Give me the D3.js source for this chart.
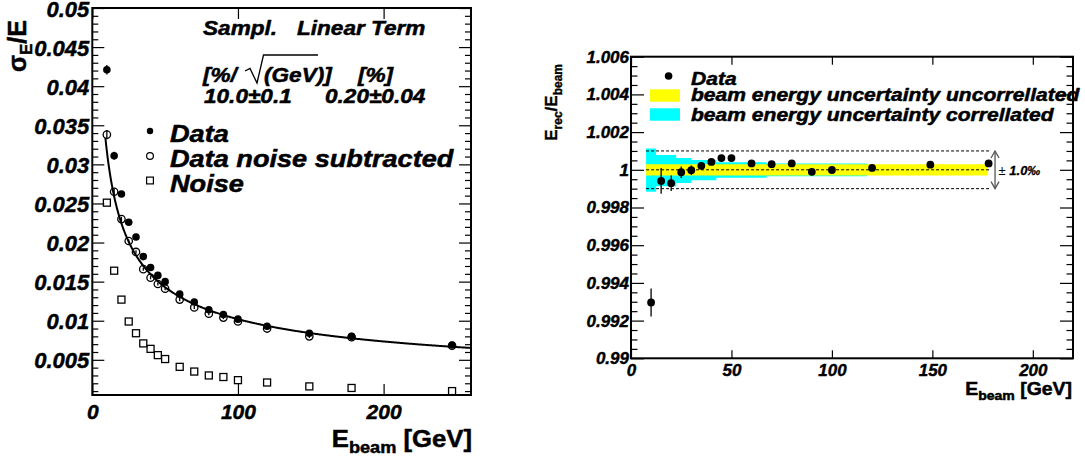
<!DOCTYPE html>
<html><head><meta charset="utf-8">
<script src="https://cdn.jsdelivr.net/npm/d3@7"></script>
<style>body{margin:0;background:#fff} text{white-space:pre}</style>
</head><body><svg id="c" width="1085" height="463"></svg>
<script>
// ---------- Left panel: energy resolution ----------
const energyL   = [10,15,20,25,30,35,40,45,50,60,70,80,90,100,120,149,178,247];
const dataRes   = [0.0421,0.0311,0.0262,0.0226,0.0207,0.0182,0.0168,0.0158,0.0150,0.0134,0.0124,0.0114,0.0108,0.0102,0.0093,0.0084,0.0080,0.0069];
const dataErr   = [0.0006,0.0005,0.0003,0.0002,0.0002,0.0002,0.0002,0.0002,0.0002,0.0002,0.0002,0.0002,0.0002,0.0002,0.0002,0.0002,0.0002,0.0002];
const subRes    = [0.0338,0.0265,0.0230,0.0202,0.0188,0.0166,0.0155,0.0147,0.0141,0.0127,0.0117,0.0109,0.0104,0.0099,0.0090,0.0080,0.0079,0.0068];
const subErr    = [0.0006,0.0004,0.0003,0.0002,0.0002,0.0002,0.0002,0.0002,0.0002,0.0002,0.0002,0.0002,0.0002,0.0002,0.0002,0.0002,0.0002,0.0002];
const noiseRes  = [0.0251,0.0164,0.0127,0.0099,0.0084,0.0071,0.0064,0.0056,0.0051,0.0041,0.0035,0.0030,0.0028,0.0024,0.0021,0.0016,0.0014,0.0010];
const fitSampling = 10.0, fitSamplingErr = 0.1;   // %/sqrt(GeV)
const fitLinear   = 0.20, fitLinearErr   = 0.04;  // %
const fitRange    = [9, 260];
const legendL     = ["Data","Data noise subtracted","Noise"];
const xTicksL      = [0,100,200];
const xTickLabelsL = ["0","100","200"];
const yTicksL      = [0.005,0.01,0.015,0.02,0.025,0.03,0.035,0.04,0.045,0.05];
const yTickLabelsL = ["0.005","0.01","0.015","0.02","0.025","0.03","0.035","0.04","0.045","0.05"];

// ---------- Right panel: linearity ----------
const energyR      = [10,15,20,25,30,35,40,45,50,60,70,80,90,100,120,149,178];
const linearity    = [0.99296,0.99941,0.99929,0.99987,0.99998,1.00021,1.00042,1.00062,1.00062,1.00034,1.00030,1.00034,0.99989,0.99999,1.00010,1.00027,1.00034];
const linearityErr = [0.00074,0.00068,0.00041,0.00030,0.00025,0.00020,0.00015,0.00012,0.00012,0.0001,0.0001,0.0001,0.0001,0.0001,0.0001,0.0001,0.0001];
const corrEdges  = [7.5,12.5,22.5,30,42.5,67.5,117.5];
const corrUp     = [0.00113,0.00078,0.00062,0.00052,0.00040,0.00034];
const corrDn     = [0.00117,0.00087,0.00070,0.00055,0.00042,0.00034];
const uncorrRange = [7.5,177.6];
const uncorrHalf  = 0.0003;
const refLevels   = [1.001,1.0,0.999];
const refRange    = [7.5,178.5];
const arrowE      = 181.2;
const arrowLabel  = "1.0‰";
const legendR     = ["Data","beam energy uncertainty uncorrellated","beam energy uncertainty correllated"];
const xTicksR      = [0,50,100,150,200];
const xTickLabelsR = ["0","50","100","150","200"];
const yTicksR      = [0.99,0.992,0.994,0.996,0.998,1.0,1.002,1.004,1.006];
const yTickLabelsR = ["0.99","0.992","0.994","0.996","0.998","1","1.002","1.004","1.006"];

const FONT = "'Liberation Sans', Arial, Helvetica, sans-serif";
const svg = d3.select("#c");
svg.append("rect").attr("width",1085).attr("height",463).attr("fill","#fff");

function heavy(sel, w) { return sel.attr("stroke","#000").attr("stroke-width", w).attr("stroke-linejoin","round"); }
function txt(parent, x, y, sx, anchor, size, weight, style) {
  const t = parent.append("text")
    .attr("transform", `translate(${x},${y}) scale(${sx},1)`)
    .attr("text-anchor", anchor).attr("font-family", FONT)
    .attr("font-size", size).attr("font-weight", weight).attr("font-style", style)
    .attr("fill", "#000");
  return heavy(t, 0.5);
}
function styleAxis(g, size, labels, dy) {
  g.select(".domain").remove();
  g.selectAll(".tick line").attr("stroke","#000").attr("stroke-width",1.2);
  const tt = g.selectAll(".tick text").attr("font-family",FONT).attr("font-size",size)
   .attr("font-weight","bold").attr("font-style","italic").attr("fill","#000");
  heavy(tt, 0.45);
  if (dy) tt.attr("dy", dy);
  if (!labels) g.selectAll(".tick text").remove();
}

// ================= LEFT =================
const xL = d3.scaleLinear().domain([0,260]).range([92.3,471]);
const yL = d3.scaleLinear().domain([0.0005,0.05]).range([395,8]);
const gL = svg.append("g");
const yMinorL = d3.range(1,50).map(i => i*0.001).filter(v => Math.abs(v/0.005 - Math.round(v/0.005)) > 1e-6);

gL.append("g").attr("transform","translate(0,395)")
  .call(d3.axisBottom(xL).tickValues(xTicksL).tickSize(-11).tickPadding(9).tickFormat((d,i)=>xTickLabelsL[i]))
  .call(g=>styleAxis(g,21,true));
gL.append("g").attr("transform","translate(0,8)")
  .call(d3.axisTop(xL).tickValues(xTicksL).tickSize(-11)).call(g=>styleAxis(g,21,false));
gL.append("g").attr("transform","translate(92.3,0)")
  .call(d3.axisLeft(yL).tickValues(yTicksL).tickSize(-12).tickPadding(3).tickFormat((d,i)=>yTickLabelsL[i]))
  .call(g=>styleAxis(g,22,true,"0.37em"));
gL.append("g").attr("transform","translate(92.3,0)")
  .call(d3.axisLeft(yL).tickValues(yMinorL).tickSize(-6)).call(g=>styleAxis(g,22,false));
gL.append("g").attr("transform","translate(471,0)")
  .call(d3.axisRight(yL).tickValues(yTicksL).tickSize(-12)).call(g=>styleAxis(g,22,false));
gL.append("g").attr("transform","translate(471,0)")
  .call(d3.axisRight(yL).tickValues(yMinorL).tickSize(-6)).call(g=>styleAxis(g,22,false));

// fit curve
const fitE = d3.range(fitRange[0], fitRange[1]+0.01, 0.5);
const fitF = E => Math.sqrt(Math.pow(fitSampling/100/Math.sqrt(E),2) + Math.pow(fitLinear/100,2));
gL.append("path").datum(fitE)
  .attr("d", d3.line().x(E=>xL(E)).y(E=>yL(fitF(E))))
  .attr("fill","none").attr("stroke","#000").attr("stroke-width",2);

// error bars
const errL = gL.append("g").attr("stroke","#000").attr("stroke-width",1.3);
energyL.forEach((E,i)=>{
  errL.append("line").attr("x1",xL(E)).attr("x2",xL(E)).attr("y1",yL(dataRes[i]-dataErr[i])).attr("y2",yL(dataRes[i]+dataErr[i]));
  errL.append("line").attr("x1",xL(E)).attr("x2",xL(E)).attr("y1",yL(subRes[i]-subErr[i])).attr("y2",yL(subRes[i]+subErr[i]));
});
// markers
gL.append("g").selectAll("rect").data(energyL).join("rect")
  .attr("x",(E)=>xL(E)-3.5).attr("y",(E,i)=>yL(noiseRes[i])-3.5).attr("width",7).attr("height",7)
  .attr("fill","none").attr("stroke","#000").attr("stroke-width",1.3);
gL.append("g").selectAll("circle").data(energyL).join("circle")
  .attr("cx",E=>xL(E)).attr("cy",(E,i)=>yL(dataRes[i])).attr("r",3.8).attr("fill","#000");
gL.append("g").selectAll("circle").data(energyL).join("circle")
  .attr("cx",E=>xL(E)).attr("cy",(E,i)=>yL(subRes[i])).attr("r",3.7)
  .attr("fill","none").attr("stroke","#000").attr("stroke-width",1.3);

// frame
gL.append("rect").attr("x",92.3).attr("y",8).attr("width",471-92.3).attr("height",395-8)
  .attr("fill","none").attr("stroke","#000").attr("stroke-width",2);

// annotation
txt(gL,203,35,1.13,"start",20,"bold","italic").text("Sampl.");
txt(gL,297,35,1.13,"start",20,"bold","italic").text("Linear Term");
txt(gL,203,82,1.13,"start",20,"bold","italic").text("[%/");
txt(gL,264,82,1.13,"start",20,"bold","italic").text("(GeV)]");
gL.append("path").attr("d","M245,71 L250,68.5 L257,83 L263.5,55 L318,55")
  .attr("fill","none").attr("stroke","#000").attr("stroke-width",1.3);
txt(gL,358,82,1.13,"start",20,"bold","italic").text("[%]");
txt(gL,204,103.3,1.13,"start",20,"bold","italic").text(`${fitSampling.toFixed(1)}±${fitSamplingErr.toFixed(1)}`);
txt(gL,325,103.3,1.13,"start",20,"bold","italic").text(`${fitLinear.toFixed(2)}±${fitLinearErr.toFixed(2)}`);

// legend
const legY = [131,156,180.5];
gL.append("circle").attr("cx",150).attr("cy",legY[0]).attr("r",3.2).attr("fill","#000");
gL.append("circle").attr("cx",150).attr("cy",legY[1]).attr("r",3.4).attr("fill","none").attr("stroke","#000").attr("stroke-width",1.2);
gL.append("rect").attr("x",146.6).attr("y",legY[2]-3.4).attr("width",6.8).attr("height",6.8).attr("fill","none").attr("stroke","#000").attr("stroke-width",1.2);
legendL.forEach((s,i)=> txt(gL,170,legY[i]+11,1.18,"start",23,"bold","italic").text(s));

// axis titles
{
  const t = txt(gL,472,446.7,1.07,"end",24,"bold","normal");
  t.append("tspan").text("E");
  t.append("tspan").attr("font-size",17).attr("dy",6).text("beam");
  t.append("tspan").attr("dy",-6).text(" [GeV]");
}
{
  const t = heavy(gL.append("text").attr("transform","translate(26,20) rotate(-90)")
    .attr("text-anchor","end").attr("font-family",FONT).attr("font-size",25).attr("font-weight","bold"), 0.5);
  t.append("tspan").text("σ");
  t.append("tspan").attr("font-size",17).attr("dy",6).text("E");
  t.append("tspan").attr("dy",-6).text("/E");
}

// ================= RIGHT =================
const xR = d3.scaleLinear().domain([0,220]).range([631,1073]);
const yR = d3.scaleLinear().domain([0.99,1.006]).range([358.3,56.7]);
const gR = svg.append("g");
const yMinorR = d3.range(0,33).map(i => 0.99 + i*0.0005).filter((v,i)=> i%4 !== 0);

gR.append("g").attr("transform","translate(0,358.3)")
  .call(d3.axisBottom(xR).tickValues(xTicksR).tickSize(-8).tickPadding(5.5).tickFormat((d,i)=>xTickLabelsR[i]))
  .call(g=>styleAxis(g,17,true));
gR.append("g").attr("transform","translate(0,56.7)")
  .call(d3.axisTop(xR).tickValues(xTicksR).tickSize(-8)).call(g=>styleAxis(g,17,false));
gR.append("g").attr("transform","translate(631,0)")
  .call(d3.axisLeft(yR).tickValues(yTicksR).tickSize(-13).tickPadding(2).tickFormat((d,i)=>yTickLabelsR[i]))
  .call(g=>styleAxis(g,17,true));
gR.append("g").attr("transform","translate(631,0)")
  .call(d3.axisLeft(yR).tickValues(yMinorR).tickSize(-6.5)).call(g=>styleAxis(g,17,false));
gR.append("g").attr("transform","translate(1073,0)")
  .call(d3.axisRight(yR).tickValues(yTicksR).tickSize(-13)).call(g=>styleAxis(g,17,false));
gR.append("g").attr("transform","translate(1073,0)")
  .call(d3.axisRight(yR).tickValues(yMinorR).tickSize(-6.5)).call(g=>styleAxis(g,17,false));

// correlated (cyan) histogram band
const corrPts = corrEdges.map((e,i)=>({x:e, up:corrUp[Math.min(i,corrUp.length-1)], dn:corrDn[Math.min(i,corrDn.length-1)]}));
gR.append("path").datum(corrPts)
  .attr("d", d3.area().curve(d3.curveStepAfter).x(d=>xR(d.x)).y0(d=>yR(1-d.dn)).y1(d=>yR(1+d.up)))
  .attr("fill","#00ffff");
// uncorrelated (yellow) band
gR.append("path").datum(uncorrRange)
  .attr("d", d3.area().x(d=>xR(d)).y0(yR(1-uncorrHalf)).y1(yR(1+uncorrHalf)))
  .attr("fill","#ffff00");
// dashed reference lines
refLevels.forEach(v=>{
  gR.append("line").attr("x1",xR(refRange[0])).attr("x2",xR(refRange[1])).attr("y1",yR(v)).attr("y2",yR(v))
    .attr("stroke","#000").attr("stroke-width",1).attr("stroke-dasharray","3,2");
});
// arrow
{
  const ax = xR(arrowE), y1 = yR(refLevels[0]), y2 = yR(refLevels[2]);
  const a = gR.append("g").attr("stroke","#555").attr("stroke-width",1.3).attr("fill","none");
  a.append("line").attr("x1",ax).attr("x2",ax).attr("y1",y1).attr("y2",y2);
  a.append("path").attr("d",`M${ax-4},${y1+7} L${ax},${y1} L${ax+4},${y1+7}`);
  a.append("path").attr("d",`M${ax-4},${y2-7} L${ax},${y2} L${ax+4},${y2-7}`);
  const t = gR.append("text").attr("x",ax+3.5).attr("y",yR(1)+5).attr("font-family",FONT).attr("font-size",13).attr("fill","#000");
  t.append("tspan").text("± ");
  heavy(t.append("tspan").attr("font-weight","bold").attr("font-style","italic"),0.3).text(arrowLabel);
}
// error bars & points
const errR = gR.append("g").attr("stroke","#000").attr("stroke-width",1.3);
energyR.forEach((E,i)=>{
  errR.append("line").attr("x1",xR(E)).attr("x2",xR(E)).attr("y1",yR(linearity[i]-linearityErr[i])).attr("y2",yR(linearity[i]+linearityErr[i]));
});
gR.append("g").selectAll("circle").data(energyR).join("circle")
  .attr("cx",E=>xR(E)).attr("cy",(E,i)=>yR(linearity[i])).attr("r",3.9).attr("fill","#000");

// frame
gR.append("rect").attr("x",631).attr("y",56.7).attr("width",1073-631).attr("height",358.3-56.7)
  .attr("fill","none").attr("stroke","#000").attr("stroke-width",2);

// legend
gR.append("circle").attr("cx",668.6).attr("cy",76).attr("r",3.8).attr("fill","#000");
gR.append("rect").attr("x",650).attr("y",89.3).attr("width",30).attr("height",12.4).attr("fill","#ffff00");
gR.append("rect").attr("x",650).attr("y",108.3).attr("width",30).attr("height",12.4).attr("fill","#00ffff");
const legBaseR = [85,100.7,121];
legendR.forEach((s,i)=> txt(gR,691,legBaseR[i],1.17,"start",18,"bold","italic").text(s));

// axis titles
{
  const t = txt(gR,1072,395,1.08,"end",18,"bold","normal");
  t.append("tspan").text("E");
  t.append("tspan").attr("font-size",13).attr("dy",4.5).text("beam");
  t.append("tspan").attr("dy",-4.5).text(" [GeV]");
}
{
  const t = heavy(gR.append("text").attr("transform","translate(557,64) rotate(-90)")
    .attr("text-anchor","end").attr("font-family",FONT).attr("font-size",17).attr("font-weight","bold"),0.4);
  t.append("tspan").text("E");
  t.append("tspan").attr("font-size",12).attr("dy",4.5).text("rec");
  t.append("tspan").attr("dy",-4.5).text("/E");
  t.append("tspan").attr("font-size",12).attr("dy",4.5).text("beam");
}
</script></body></html>
